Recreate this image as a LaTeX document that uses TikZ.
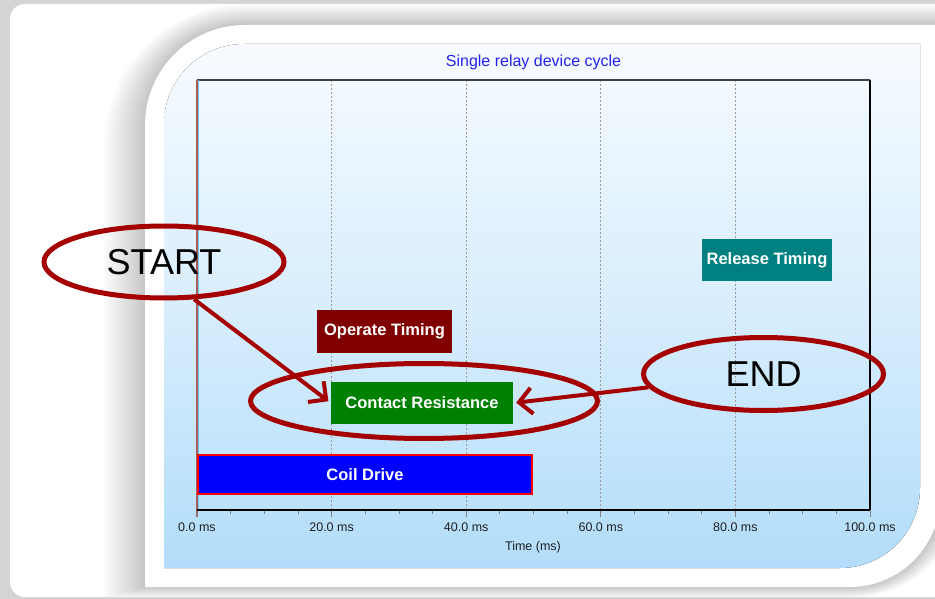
\documentclass[tikz,border=0pt]{standalone}
\usepackage{fontspec}
\setmainfont{Liberation Sans}
\usetikzlibrary{arrows.meta,shapes.geometric}
\definecolor{pagegray}{RGB}{212,212,212}
\definecolor{charttop}{RGB}{247,251,255}
\definecolor{chartbot}{RGB}{178,221,250}
\definecolor{titleblue}{RGB}{35,35,235}
\definecolor{ringred}{RGB}{165,0,0}
\definecolor{coilblue}{RGB}{0,0,255}
\definecolor{contgreen}{RGB}{0,128,0}
\definecolor{operred}{RGB}{128,0,0}
\definecolor{relteal}{RGB}{0,128,128}
\definecolor{axisred}{RGB}{175,90,90}
\newcommand\panelshape[6]{({#1},{#4}) -- ({#1},{(#2)+(#5)}) .. controls ({#1},{(#2)+0.448*(#5)}) and ({(#1)+0.448*(#5)},{#2}) .. ({(#1)+(#5)},{#2}) -- ({#3},{#2}) -- ({#3},{(#4)-(#6)}) .. controls ({#3},{(#4)-0.448*(#6)}) and ({(#3)-0.448*(#6)},{#4}) .. ({(#3)-(#6)},{#4}) -- cycle}

\begin{document}
\begin{tikzpicture}[x=1pt,y=-1pt,
    bar/.style={inner sep=0pt,text=white,font=\fontsize{16.5}{18}\selectfont\bfseries},
    markring/.style={ellipse,draw=ringred,line width=5pt,inner sep=0pt,font=\fontsize{36}{40}\selectfont},
    ticklbl/.style={text=black!88,font=\fontsize{12.5}{14}\selectfont},
    pointer/.style={ringred,line width=4pt,-{Straight Barb[length=13pt,width=26pt]},shorten >=3pt}]
  \useasboundingbox (0,0) rectangle (935,599);
  \clip (0,0) rectangle (935,599);
  \fill[pagegray] (0,0) rectangle (935,599);
  \fill[white,rounded corners=15pt] (10,4) rectangle (990,597);
  \foreach \d in {1,...,28}
    \fill[black,opacity=0.009] \panelshape{145-1.5*\d}{25-0.75*\d}{940+\d}{587+0.4*\d}{100+1.5*\d}{90+\d};
  \fill[white] \panelshape{145}{25}{940}{587}{100}{90};
  \fill[top color=charttop,bottom color=chartbot,middle color=charttop!55!chartbot] \panelshape{164}{44}{920}{568}{80}{80};
  \node[text=titleblue,font=\fontsize{16}{18}\selectfont] (ttl) at (533.5,62) {Single relay device cycle};
  \draw[gray!80,line width=0.8pt,dash pattern=on 2pt off 2pt] (331.6,80) -- (331.6,510);
  \draw[gray!80,line width=0.8pt,dash pattern=on 2pt off 2pt] (466.2,80) -- (466.2,510);
  \draw[gray!80,line width=0.8pt,dash pattern=on 2pt off 2pt] (600.8,80) -- (600.8,510);
  \draw[gray!80,line width=0.8pt,dash pattern=on 2pt off 2pt] (735.4,80) -- (735.4,510);
  \draw[black!75,line width=1.5pt] (197,80) -- (870,80);
  \draw[black,line width=1.2pt] (870,80) -- (870,510);
  \draw[cyan!60,line width=0.8pt] (198.4,80) -- (198.4,510);
  \draw[axisred,line width=1.2pt] (197,80) -- (197,517);
  \foreach \m in {5,10,15,25,30,35,45,50,55,65,70,75,85,90,95}
    \draw[gray,line width=0.8pt] ({197+6.73*\m},510) -- ({197+6.73*\m},514);
  \draw[shift={(197,0)},gray,line width=0.8pt] (0,510) -- (0,517) node[ticklbl,below=5pt,inner sep=0pt] (t0) {0.0 ms};
  \draw[shift={(331.6,0)},gray,line width=0.8pt] (0,510) -- (0,517) node[ticklbl,below=5pt,inner sep=0pt] (t20) {20.0 ms};
  \draw[shift={(466.2,0)},gray,line width=0.8pt] (0,510) -- (0,517) node[ticklbl,below=5pt,inner sep=0pt] (t40) {40.0 ms};
  \draw[shift={(600.8,0)},gray,line width=0.8pt] (0,510) -- (0,517) node[ticklbl,below=5pt,inner sep=0pt] (t60) {60.0 ms};
  \draw[shift={(735.4,0)},gray,line width=0.8pt] (0,510) -- (0,517) node[ticklbl,below=5pt,inner sep=0pt] (t80) {80.0 ms};
  \draw[shift={(870,0)},gray,line width=0.8pt] (0,510) -- (0,517) node[ticklbl,below=5pt,inner sep=0pt] (t100) {100.0 ms};
  \draw[black,line width=2pt] (197,510) -- (870,510);
  \node[ticklbl] (xt) at (533,547.5) {Time (ms)};
  \node[bar,fill=coilblue,draw=red,line width=2pt,minimum width=334pt,minimum height=39pt] (cd) at (365,474.5) {Coil Drive};
  \node[bar,fill=contgreen,minimum width=182pt,minimum height=42pt] (cr) at (422,403) {Contact Resistance};
  \node[bar,fill=operred,minimum width=135pt,minimum height=43pt] (ot) at (384.5,331.5) {Operate Timing};
  \node[bar,fill=relteal,minimum width=130pt,minimum height=42pt] (rt) at (767,260) {Release Timing};
  \node[markring,minimum width=347pt,minimum height=75pt] (hl) at (424,401) {};
  \node[markring,minimum width=240pt,minimum height=72pt] (s) at (164,262) {START};
  \node[markring,minimum width=240pt,minimum height=73pt] (e) at (763.5,374) {END};
  \draw[pointer] (s.-51) -- (cr.west);
  \draw[pointer] (e) -- (cr.east);
\end{tikzpicture}
\end{document}
